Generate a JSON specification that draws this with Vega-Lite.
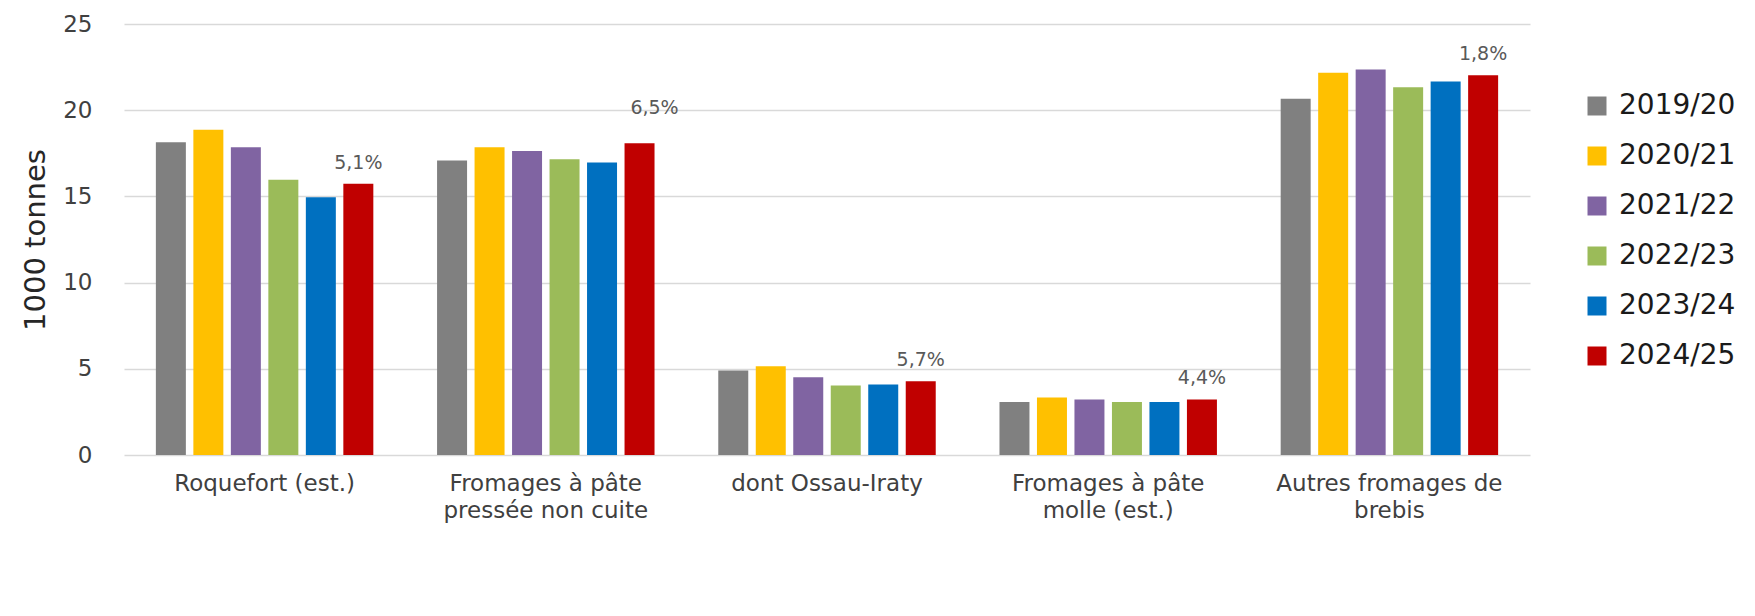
{
  "$schema": "https://vega.github.io/schema/vega-lite/v6.json",
  "autosize": {"type": "none"},
  "padding": {"left": 124, "top": 24, "right": 225, "bottom": 161},
  "width": 1406,
  "height": 431,
  "background": "white",
  "config": {
    "font": "DejaVu Sans",
    "view": {"stroke": null}
  },
  "data": {
    "values": [
      {"cat": "Roquefort (est.)", "year": "2019/20", "value": 18.14, "evo": ""},
      {"cat": "Roquefort (est.)", "year": "2020/21", "value": 18.86, "evo": ""},
      {"cat": "Roquefort (est.)", "year": "2021/22", "value": 17.85, "evo": ""},
      {"cat": "Roquefort (est.)", "year": "2022/23", "value": 15.96, "evo": ""},
      {"cat": "Roquefort (est.)", "year": "2023/24", "value": 14.95, "evo": ""},
      {"cat": "Roquefort (est.)", "year": "2024/25", "value": 15.73, "evo": "5,1%"},
      {"cat": "Fromages à pâte pressée non cuite", "year": "2019/20", "value": 17.08, "evo": ""},
      {"cat": "Fromages à pâte pressée non cuite", "year": "2020/21", "value": 17.85, "evo": ""},
      {"cat": "Fromages à pâte pressée non cuite", "year": "2021/22", "value": 17.64, "evo": ""},
      {"cat": "Fromages à pâte pressée non cuite", "year": "2022/23", "value": 17.16, "evo": ""},
      {"cat": "Fromages à pâte pressée non cuite", "year": "2023/24", "value": 16.97, "evo": ""},
      {"cat": "Fromages à pâte pressée non cuite", "year": "2024/25", "value": 18.09, "evo": "6,5%"},
      {"cat": "dont Ossau-Iraty", "year": "2019/20", "value": 4.90, "evo": ""},
      {"cat": "dont Ossau-Iraty", "year": "2020/21", "value": 5.15, "evo": ""},
      {"cat": "dont Ossau-Iraty", "year": "2021/22", "value": 4.51, "evo": ""},
      {"cat": "dont Ossau-Iraty", "year": "2022/23", "value": 4.03, "evo": ""},
      {"cat": "dont Ossau-Iraty", "year": "2023/24", "value": 4.09, "evo": ""},
      {"cat": "dont Ossau-Iraty", "year": "2024/25", "value": 4.28, "evo": "5,7%"},
      {"cat": "Fromages à pâte molle (est.)", "year": "2019/20", "value": 3.08, "evo": ""},
      {"cat": "Fromages à pâte molle (est.)", "year": "2020/21", "value": 3.34, "evo": ""},
      {"cat": "Fromages à pâte molle (est.)", "year": "2021/22", "value": 3.22, "evo": ""},
      {"cat": "Fromages à pâte molle (est.)", "year": "2022/23", "value": 3.08, "evo": ""},
      {"cat": "Fromages à pâte molle (est.)", "year": "2023/24", "value": 3.08, "evo": ""},
      {"cat": "Fromages à pâte molle (est.)", "year": "2024/25", "value": 3.22, "evo": "4,4%"},
      {"cat": "Autres fromages de brebis", "year": "2019/20", "value": 20.66, "evo": ""},
      {"cat": "Autres fromages de brebis", "year": "2020/21", "value": 22.17, "evo": ""},
      {"cat": "Autres fromages de brebis", "year": "2021/22", "value": 22.36, "evo": ""},
      {"cat": "Autres fromages de brebis", "year": "2022/23", "value": 21.33, "evo": ""},
      {"cat": "Autres fromages de brebis", "year": "2023/24", "value": 21.66, "evo": ""},
      {"cat": "Autres fromages de brebis", "year": "2024/25", "value": 22.03, "evo": "1,8%"}
    ]
  },
  "encoding": {
    "x": {
      "field": "cat", "type": "nominal", "sort": null,
      "scale": {"paddingInner": 0.2, "paddingOuter": 0.1},
      "axis": {
        "title": null, "labelAngle": 0, "domain": false, "ticks": false,
        "labelFontSize": 23, "labelColor": "#404040", "labelPadding": 17,
        "labelLineHeight": 27, "labelBaseline": "top", "labelLimit": 400,
        "labelExpr": "datum.value == 'Fromages à pâte pressée non cuite' ? ['Fromages à pâte', 'pressée non cuite'] : datum.value == 'Fromages à pâte molle (est.)' ? ['Fromages à pâte', 'molle (est.)'] : datum.value == 'Autres fromages de brebis' ? ['Autres fromages de', 'brebis'] : datum.value"
      }
    },
    "xOffset": {
      "field": "year", "type": "nominal", "sort": null,
      "scale": {"paddingInner": 0.2, "paddingOuter": 0.1}
    },
    "y": {
      "field": "value", "type": "quantitative",
      "scale": {"domain": [0, 25], "nice": false},
      "axis": {
        "title": "1000 tonnes", "titleFontSize": 29, "titleFontWeight": "normal",
        "titleColor": "#262626", "titlePadding": 12,
        "values": [0, 5, 10, 15, 20, 25],
        "domain": false, "ticks": false, "labelFontSize": 23, "labelColor": "#404040",
        "labelPadding": 32, "gridColor": "#d9d9d9", "gridWidth": 1.5
      }
    }
  },
  "layer": [
    {
      "mark": {"type": "bar"},
      "encoding": {
        "color": {
          "field": "year", "type": "nominal", "sort": null,
          "scale": {
            "domain": ["2019/20", "2020/21", "2021/22", "2022/23", "2023/24", "2024/25"],
            "range": ["#808080", "#FFC000", "#8064A2", "#9BBB59", "#0070C0", "#C00000"]
          },
          "legend": {
            "title": null, "orient": "none", "legendX": 1459, "legendY": 68,
            "symbolType": "square", "symbolSize": 361, "symbolStrokeWidth": 0,
            "labelFontSize": 28, "labelColor": "#1a1a1a", "rowPadding": 22,
            "labelOffset": 8, "labelLimit": 300
          }
        }
      }
    },
    {
      "transform": [{"filter": "datum.evo != '' && datum.cat != 'Fromages à pâte pressée non cuite'"}],
      "mark": {"type": "text", "dy": -21, "fontSize": 19, "color": "#595959", "baseline": "middle"},
      "encoding": {"text": {"field": "evo"}}
    },
    {
      "transform": [{"filter": "datum.evo != '' && datum.cat == 'Fromages à pâte pressée non cuite'"}],
      "mark": {"type": "text", "dy": -35, "dx": 15, "fontSize": 19, "color": "#595959", "baseline": "middle"},
      "encoding": {"text": {"field": "evo"}}
    }
  ]
}
